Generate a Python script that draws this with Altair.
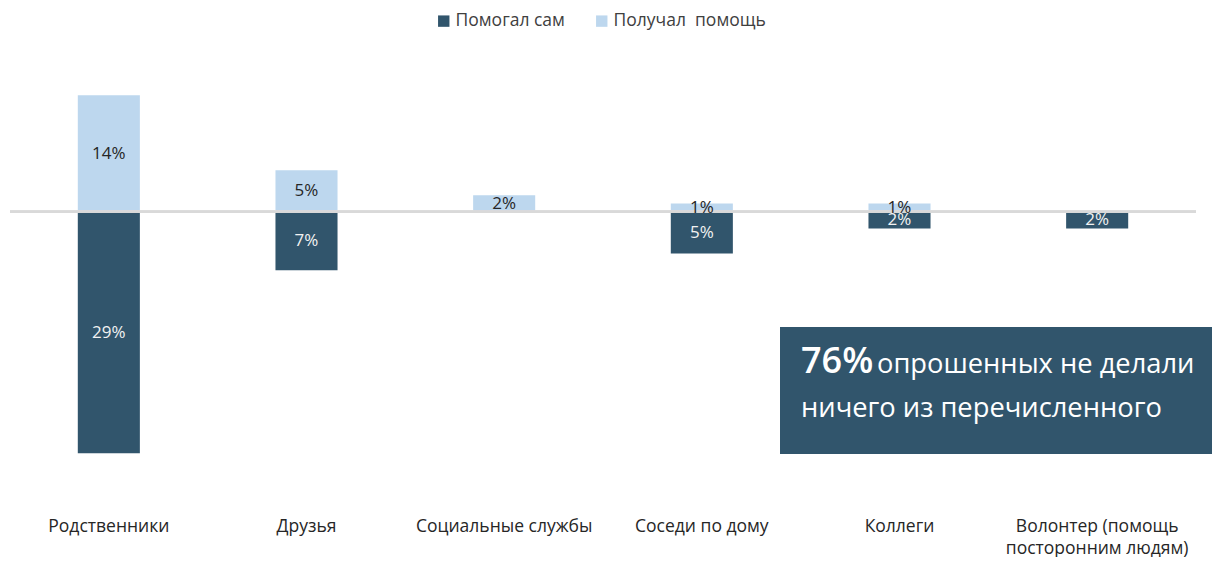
import altair as alt
import pandas as pd

categories = ["Родственники", "Друзья", "Социальные службы", "Соседи по дому", "Коллеги",
              "Волонтер (помощь\nпосторонним людям)"]
series = ["Помогал сам", "Получал\u00a0 помощь"]
helped = [29, 7, 0, 5, 2, 2]
received = [14, 5, 2, 1, 1, 0]

DARK = "#31556C"
LIGHT = "#BDD7EE"
FONT = "Open Sans"

rows = []
for c, h, r in zip(categories, helped, received):
    rows.append({"category": c, "series": series[0], "value": -h, "mid": -h / 2,
                 "label": f"{h}%" if h else ""})
    rows.append({"category": c, "series": series[1], "value": r, "mid": r / 2,
                 "label": f"{r}%" if r else ""})
df = pd.DataFrame(rows)

W, H = 1186, 458

x_enc = alt.X("category:N", sort=categories,
              scale=alt.Scale(paddingInner=0.686, paddingOuter=0.343),
              axis=alt.Axis(title=None, domain=False, ticks=False, labelAngle=0,
                            labelPadding=47, labelFontSize=17.5, labelFont=FONT,
                            labelColor="#262626", labelLineHeight=22, labelLimit=400,
                            labelExpr="split(datum.label, '\\n')"))
y_scale = alt.Scale(domain=[-31, 24], nice=False, zero=False)

base = alt.Chart(df)

bars = base.mark_bar().encode(
    x=x_enc,
    y=alt.Y("value:Q", scale=y_scale, axis=None),
    color=alt.Color("series:N", sort=series,
                    scale=alt.Scale(domain=series, range=[DARK, LIGHT]),
                    legend=alt.Legend(title=None, orient="none", legendX=425, legendY=0,
                                      direction="horizontal", symbolType="square",
                                      symbolSize=130, symbolStrokeWidth=0, labelOffset=3,
                                      labelFontSize=17.5, labelFont=FONT,
                                      labelColor="#404040", columnPadding=28)),
)

zero = base.mark_rule(color="#D9D9D9", strokeWidth=2).encode(
    y=alt.datum(0), x=alt.value(0), x2=alt.value(W)
)

txt_light = base.transform_filter(alt.datum.series == series[1]).mark_text(
    fontSize=17, font=FONT, color="#262626", baseline="middle"
).encode(x=alt.X("category:N", sort=categories), y=alt.Y("mid:Q"), text="label:N")

txt_dark = base.transform_filter(alt.datum.series == series[0]).mark_text(
    fontSize=17, font=FONT, color="#F2F2F2", baseline="middle"
).encode(x=alt.X("category:N", sort=categories), y=alt.Y("mid:Q"), text="label:N")

box = base.mark_rect(color=DARK).encode(
    x=alt.value(770), x2=alt.value(1202), y=alt.value(315), y2=alt.value(442)
)

ann_big = alt.Chart(pd.DataFrame({"t": ["76%"]})).mark_text(
    fontSize=36, font=FONT, fontWeight=600, color="white", align="left", baseline="alphabetic"
).encode(x=alt.value(791), y=alt.value(361), text="t:N")

ann_1 = alt.Chart(pd.DataFrame({"t": ["опрошенных не делали"]})).mark_text(
    fontSize=27.3, font=FONT, color="white", align="left", baseline="alphabetic"
).encode(x=alt.value(867), y=alt.value(361), text="t:N")

ann_2 = alt.Chart(pd.DataFrame({"t": ["ничего из перечисленного"]})).mark_text(
    fontSize=27.3, font=FONT, color="white", align="left", baseline="alphabetic"
).encode(x=alt.value(791), y=alt.value(405), text="t:N")

chart = alt.layer(bars, zero, txt_light, txt_dark, box, ann_big, ann_1, ann_2).properties(
    width=W, height=H,
    autosize=alt.AutoSizeParams(type="none"),
    padding={"left": 2, "top": 4, "right": 16, "bottom": 87},
).configure_view(stroke=None)

chart.save("out.html", embed_options={"renderer": "svg", "actions": False})
